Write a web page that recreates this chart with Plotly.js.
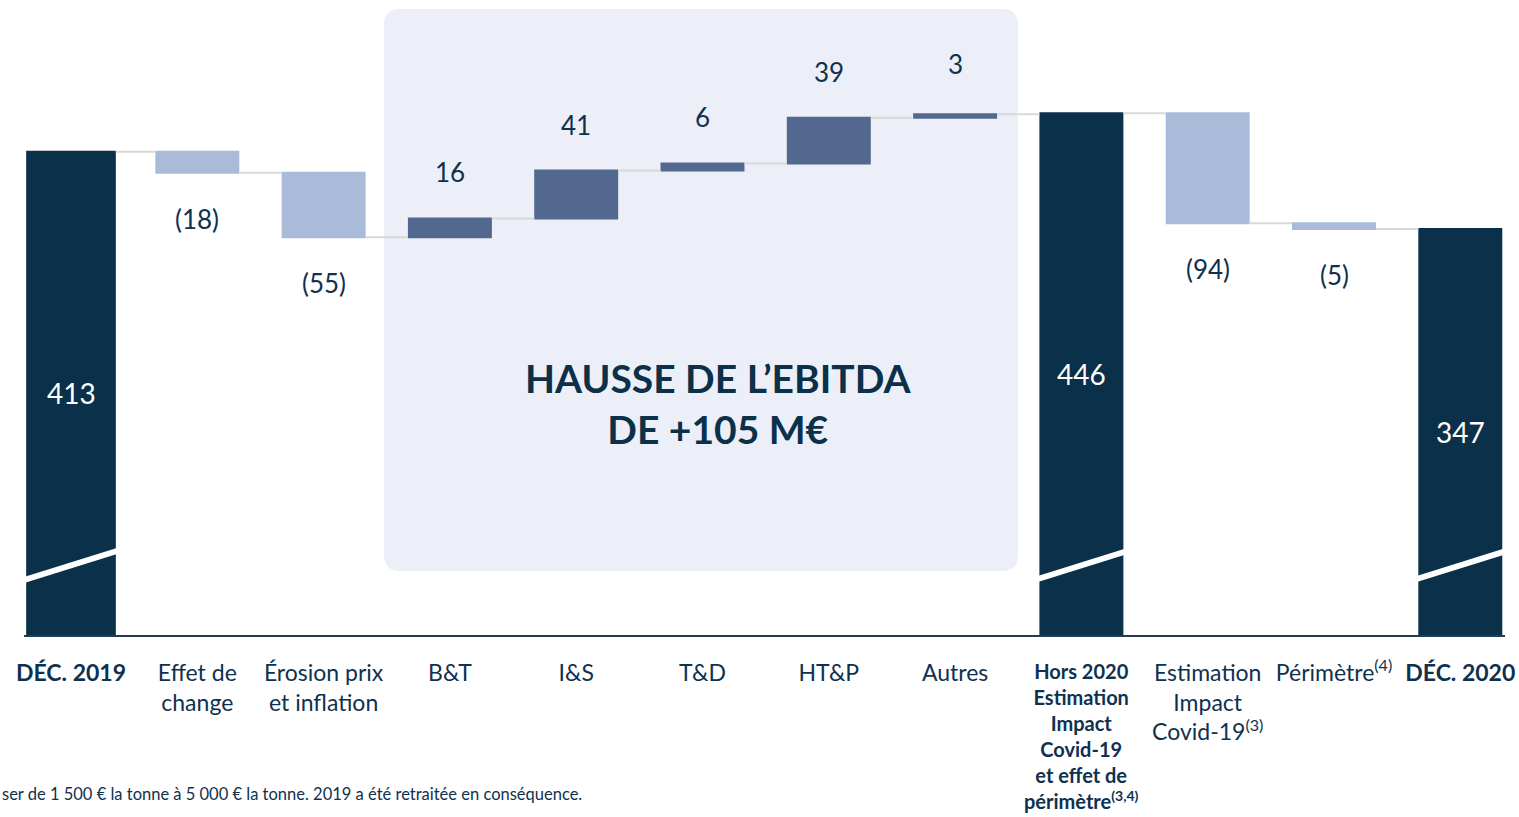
<!DOCTYPE html>
<html><head><meta charset="utf-8">
<script src="https://cdn.plot.ly/plotly-3.0.1.min.js"></script>
<style>html,body{margin:0;padding:0;background:#fff;} #chart{width:1519px;height:817px;}</style>
</head><body><div id="chart"></div>
<script>
// ---- data ----
const categories = ['DÉC. 2019','Effet de change','Érosion prix et inflation','B&T','I&S','T&D','HT&P','Autres',
  'Hors 2020 Estimation Impact Covid-19 et effet de périmètre','Estimation Impact Covid-19','Périmètre','DÉC. 2020'];
const tickLabels = ['<b>DÉC. 2019</b>','Effet de<br>change','Érosion prix<br>et inflation','B&amp;T','I&amp;S','T&amp;D','HT&amp;P','Autres',
  '<b>Hors 2020<br>Estimation<br>Impact<br>Covid-19<br>et effet de<br>périmètre<sup>(3,4)</sup></b>',
  'Estimation<br>Impact<br>Covid-19<sup>(3)</sup>','Périmètre<sup>(4)</sup>','<b>DÉC. 2020</b>'];
const values = [413,-18,-55,16,41,6,39,3,446,-94,-5,347];
const measures = ['absolute','relative','relative','relative','relative','relative','relative','relative','absolute','relative','relative','total'];
const valueLabels = ['413','(18)','(55)','16','41','6','39','3','446','(94)','(5)','347'];
const highlightText = '<b>HAUSSE DE L’EBITDA<br>DE +105 M€</b>';
const footnote = 'ser de 1 500 € la tonne à 5 000 € la tonne. 2019 a été retraitée en conséquence.';

// ---- style ----
const NAVY='#0B3049', MID='#52688F', LIGHT='#AABBDA', TXT='#0F3150';
const FONT='Lato, "Noto Sans", sans-serif';
const ML=24, MR=14, MT=0, MB=182, W=1519, H=817;
const pw=W-ML-MR, ph=H-MT-MB;
const SMALL_TICK=8; // category whose label is drawn smaller (annotation)

// cumulative levels for label placement
let run=0; const ends=[];
values.forEach((v,i)=>{
  if(measures[i]==='relative'){run+=v; ends.push(run);}
  else if(measures[i]==='absolute'){run=v; ends.push(v);}
  else {ends.push(run);}
});

const annotations=[];
values.forEach((v,i)=>{
  if(measures[i]!=='relative'){
    annotations.push({x:i,y:ends[i]/2,xref:'x',yref:'y',text:valueLabels[i],showarrow:false,
      font:{family:FONT,size:28,color:'#ffffff'}});
  } else {
    annotations.push({x:i,y:ends[i],xref:'x',yref:'y',text:valueLabels[i],showarrow:false,
      yshift: v>0?(v<5?50:46):-46, font:{family:FONT,size:26,color:TXT}});
  }
});
annotations.push({x:SMALL_TICK,y:0,xref:'x',yref:'paper',yanchor:'top',yshift:-22,text:tickLabels[SMALL_TICK],showarrow:false,
  font:{family:FONT,size:20,color:TXT},align:'center'});
annotations.push({x:(718-ML)/pw,y:(H-MB-404)/ph,xref:'paper',yref:'paper',text:highlightText,showarrow:false,
  font:{family:FONT,size:39,color:NAVY},align:'center'});
annotations.push({x:0,y:0,xref:'paper',yref:'paper',xshift:-ML,yshift:-159,xanchor:'left',yanchor:'middle',
  text:footnote,showarrow:false,font:{family:FONT,size:16.5,color:TXT}});

// rounded rectangle in paper coords
function rrect(x0,y0,x1,y1,rpx){
  const rx=rpx/pw, ry=rpx/ph;
  return `M ${x0+rx},${y0} L ${x1-rx},${y0} Q ${x1},${y0} ${x1},${y0+ry} L ${x1},${y1-ry} Q ${x1},${y1} ${x1-rx},${y1} `+
         `L ${x0+rx},${y1} Q ${x0},${y1} ${x0},${y1-ry} L ${x0},${y0+ry} Q ${x0},${y0} ${x0+rx},${y0} Z`;
}
const shapes=[{type:'path',xref:'paper',yref:'paper',layer:'below',
  path:rrect((384-ML)/pw,(H-MB-571)/ph,(1018-ML)/pw,(H-MB-9)/ph,16),
  fillcolor:'#ECEFF7',line:{width:0}}];
// axis break marks on total bars
values.forEach((v,i)=>{
  if(measures[i]!=='relative'){
    shapes.push({type:'line',xref:'x',yref:'y',x0:i-0.37,x1:i+0.37,y0:47,y1:72,line:{color:'#ffffff',width:6}});
  }
});

const trace={type:'waterfall',x:categories,y:values,measure:measures,
  width:values.map((v,i)=>i===0?0.71:0.665),
  increasing:{marker:{color:MID}},decreasing:{marker:{color:LIGHT}},totals:{marker:{color:NAVY}},
  connector:{line:{color:'#D9D9D9',width:2}},textposition:'none',hoverinfo:'skip'};

const tv=categories.filter((c,i)=>i!==SMALL_TICK), tt=tickLabels.filter((c,i)=>i!==SMALL_TICK);
const span=pw/126.3, r0=-(71-ML)/126.3;
const layout={width:W,height:H,margin:{l:ML,r:MR,t:MT,b:MB},paper_bgcolor:'#fff',plot_bgcolor:'rgba(0,0,0,0)',
  showlegend:false,
  xaxis:{type:'category',range:[r0,r0+span],tickvals:tv,ticktext:tt,showgrid:false,zeroline:false,
    showline:true,linecolor:'#1E3D5A',linewidth:2,ticks:'',ticklabelstandoff:16,
    tickfont:{family:FONT,size:23,color:TXT}},
  yaxis:{range:[0,ph/1.17],visible:false,showgrid:false,zeroline:false},
  annotations,shapes,font:{family:FONT}};
Plotly.newPlot('chart',[trace],layout,{staticPlot:true,displayModeBar:false});
</script></body></html>
